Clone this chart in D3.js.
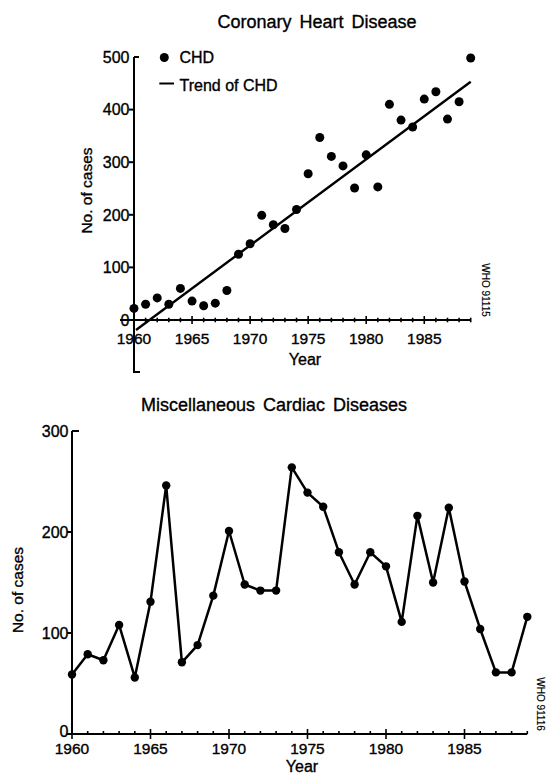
<!DOCTYPE html>
<html><head><meta charset="utf-8">
<script src="https://cdn.jsdelivr.net/npm/d3@7"></script>
<style>
body{margin:0;background:#fff}
svg text{font-family:"Liberation Sans",Arial,Helvetica,sans-serif;fill:#000;stroke:#000;stroke-width:0.35px}
</style>
</head><body>
<svg id="c" width="547" height="775"></svg>
<script>
// ---------- data ----------
const years = [1960,1961,1962,1963,1964,1965,1966,1967,1968,1969,1970,1971,1972,1973,1974,1975,1976,1977,1978,1979,1980,1981,1982,1983,1984,1985,1986,1987,1988,1989];
const chdCases = [22,30,42,30,60,36,27,32,56,125,145,199,181,174,210,278,347,311,293,251,314,253,410,380,367,420,434,382,415,498];
const trendYears = [1960,1989];
const trendValues = [-19,453];
const miscCases = [59,79,73,108,56,131,246,71,88,137,201,148,142,142,264,239,225,180,148,180,166,111,216,150,224,151,104,61,61,116];
const chdYTicks = [0,100,200,300,400,500];
const miscYTicks = [0,100,200,300];
const yearTickLabels = [1960,1965,1970,1975,1980,1985];

const svg = d3.select('#c');

// ---------- top chart: Coronary Heart Disease ----------
{
  const x = d3.scaleLinear().domain([1960,1989]).range([134,470.7]);
  const y = d3.scaleLinear().domain([0,500]).range([320,57]);
  const g = svg.append('g');

  g.append('text').attr('x',317).attr('y',28).attr('text-anchor','middle')
    .style('font-size','18px').style('word-spacing','3px').text('Coronary Heart Disease');

  // x axis line (extends left of y axis)
  g.append('line').attr('x1',120).attr('x2',x(1989)).attr('y1',y(0)).attr('y2',y(0))
    .attr('stroke','#000').attr('stroke-width',2);
  // year ticks crossing the axis
  g.selectAll('line.xt').data(years).join('line').attr('class','xt')
    .attr('x1',d=>x(d)).attr('x2',d=>x(d))
    .attr('y1',d=>y(0)-(d%5===0?4:2.3)).attr('y2',d=>y(0)+(d%5===0?4:2.3))
    .attr('stroke','#000').attr('stroke-width',1.6);
  g.selectAll('text.xl').data(yearTickLabels).join('text').attr('class','xl')
    .attr('x',d=>x(d)).attr('y',343.5).attr('text-anchor','middle')
    .style('font-size','15.5px').text(d=>d);

  // y axis line with foot
  g.append('path').attr('d',`M${x(1960)},${y(500)}V372H140`)
    .attr('fill','none').attr('stroke','#000').attr('stroke-width',2);
  g.selectAll('line.yt').data(chdYTicks).join('line').attr('class','yt')
    .attr('x1',d=>d===500?x(1960):x(1960)-5).attr('x2',d=>d===500?x(1960)+5:x(1960))
    .attr('y1',d=>y(d)).attr('y2',d=>y(d)).attr('stroke','#000').attr('stroke-width',2);
  g.selectAll('text.yl').data(chdYTicks).join('text').attr('class','yl')
    .attr('x',129.5).attr('y',d=>y(d)).attr('dy','0.36em').attr('text-anchor','end')
    .style('font-size','16px').text(d=>d);

  g.append('text').attr('transform','translate(92,190.5) rotate(-90)').attr('text-anchor','middle')
    .style('font-size','15.5px').text('No. of cases');
  g.append('text').attr('x',305).attr('y',365).attr('text-anchor','middle')
    .style('font-size','16px').text('Year');

  // trend line
  g.append('line').attr('x1',x(trendYears[0])+2).attr('y1',y(trendValues[0]))
    .attr('x2',x(trendYears[1])).attr('y2',y(trendValues[1]))
    .attr('stroke','#000').attr('stroke-width',2.4);
  // points
  g.selectAll('circle.p').data(years).join('circle').attr('class','p')
    .attr('cx',d=>x(d)).attr('cy',(d,i)=>y(chdCases[i])).attr('r',4.5).attr('fill','#000');

  // legend
  g.append('circle').attr('cx',164.3).attr('cy',57.5).attr('r',4.5).attr('fill','#000');
  g.append('text').attr('x',179.5).attr('y',62.5).style('font-size','16px').text('CHD');
  g.append('line').attr('x1',159.3).attr('x2',174).attr('y1',83.5).attr('y2',83.5)
    .attr('stroke','#000').attr('stroke-width',2);
  g.append('text').attr('x',179.5).attr('y',90.5).style('font-size','16px').text('Trend of CHD');

  g.append('text').attr('transform','translate(482,290) rotate(90)').attr('text-anchor','middle')
    .style('font-size','10px').style('stroke-width','0.15px').text('WHO 91115');
}

// ---------- bottom chart: Miscellaneous Cardiac Diseases ----------
{
  const x = d3.scaleLinear().domain([1960,1989]).range([72,527.3]);
  const y = d3.scaleLinear().domain([0,300]).range([734,431]);
  const g = svg.append('g');

  g.append('text').attr('x',274).attr('y',411).attr('text-anchor','middle')
    .style('font-size','18px').style('word-spacing','3px').text('Miscellaneous Cardiac Diseases');

  // x axis
  g.append('line').attr('x1',x(1960)).attr('x2',x(1989)).attr('y1',y(0)).attr('y2',y(0))
    .attr('stroke','#000').attr('stroke-width',2);
  g.selectAll('line.xt').data(years).join('line').attr('class','xt')
    .attr('x1',d=>x(d)).attr('x2',d=>x(d))
    .attr('y1',d=>y(0)-(d%5===0?5:3)).attr('y2',d=>y(0)+(d%5===0?5:0))
    .attr('stroke','#000').attr('stroke-width',1.6);
  g.selectAll('text.xl').data(yearTickLabels).join('text').attr('class','xl')
    .attr('x',d=>x(d)).attr('y',753.5).attr('text-anchor','middle')
    .style('font-size','15.5px').text(d=>d);

  // y axis
  g.append('line').attr('x1',x(1960)).attr('x2',x(1960)).attr('y1',y(300)).attr('y2',y(0))
    .attr('stroke','#000').attr('stroke-width',2);
  g.selectAll('line.yt').data(miscYTicks).join('line').attr('class','yt')
    .attr('x1',d=>d===300?x(1960):x(1960)-5).attr('x2',d=>d===300?x(1960)+7:x(1960))
    .attr('y1',d=>y(d)).attr('y2',d=>y(d)).attr('stroke','#000').attr('stroke-width',2);
  g.selectAll('text.yl').data(miscYTicks).join('text').attr('class','yl')
    .attr('x',68.5).attr('y',d=>y(d)).attr('dy',d=>d===0?'0.2em':'0.36em').attr('text-anchor','end')
    .style('font-size','16px').text(d=>d);

  g.append('text').attr('transform','translate(23,590) rotate(-90)').attr('text-anchor','middle')
    .style('font-size','15.5px').text('No. of cases');
  g.append('text').attr('x',302).attr('y',771.5).attr('text-anchor','middle')
    .style('font-size','16px').text('Year');

  const line = d3.line().x((d,i)=>x(years[i])).y(d=>y(d));
  g.append('path').datum(miscCases).attr('d',line).attr('fill','none')
    .attr('stroke','#000').attr('stroke-width',2.5).attr('stroke-linejoin','round');
  g.selectAll('circle.p').data(miscCases).join('circle').attr('class','p')
    .attr('cx',(d,i)=>x(years[i])).attr('cy',d=>y(d)).attr('r',4.2).attr('fill','#000');

  g.append('text').attr('transform','translate(537,704) rotate(90)').attr('text-anchor','middle')
    .style('font-size','10px').style('stroke-width','0.15px').text('WHO 91116');
}
</script>
</body></html>
